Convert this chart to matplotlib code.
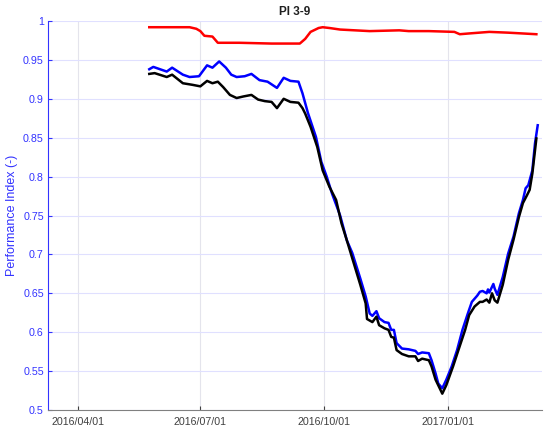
import matplotlib
matplotlib.use("Agg")
import matplotlib.pyplot as plt
import matplotlib.dates as mdates
import pandas as pd

plt.rcParams['font.family'] = ['Liberation Sans', 'DejaVu Sans']

red_dates = ['2016-05-24', '2016-06-23', '2016-06-28', '2016-07-01', '2016-07-04',
             '2016-07-10', '2016-07-14', '2016-07-30', '2016-08-23', '2016-09-13',
             '2016-09-17', '2016-09-21', '2016-09-27', '2016-09-30', '2016-10-05',
             '2016-10-13', '2016-11-04', '2016-11-26', '2016-12-03', '2016-12-18',
             '2017-01-06', '2017-01-10', '2017-01-17', '2017-02-01', '2017-02-15',
             '2017-03-08']
red_vals = [0.992, 0.992, 0.990, 0.987, 0.981, 0.980, 0.972, 0.972, 0.971, 0.971,
            0.977, 0.986, 0.991, 0.992, 0.991, 0.989, 0.987, 0.988, 0.987, 0.987,
            0.986, 0.983, 0.984, 0.986, 0.985, 0.983]

blue_dates = ['2016-05-24', '2016-05-27', '2016-06-06', '2016-06-10', '2016-06-18',
              '2016-06-23', '2016-06-30', '2016-07-03', '2016-07-06', '2016-07-10',
              '2016-07-15', '2016-07-20', '2016-07-24', '2016-07-28', '2016-08-03',
              '2016-08-08', '2016-08-14', '2016-08-20', '2016-08-27', '2016-09-01',
              '2016-09-06', '2016-09-12', '2016-09-15', '2016-09-19', '2016-09-25',
              '2016-09-29', '2016-10-03', '2016-10-07', '2016-10-13', '2016-10-18',
              '2016-10-22', '2016-10-28', '2016-11-01', '2016-11-04', '2016-11-06',
              '2016-11-09', '2016-11-11', '2016-11-15', '2016-11-18', '2016-11-20',
              '2016-11-22', '2016-11-24', '2016-11-28', '2016-12-03', '2016-12-08',
              '2016-12-10', '2016-12-13', '2016-12-18', '2016-12-20', '2016-12-23',
              '2016-12-25', '2016-12-28', '2016-12-31', '2017-01-04', '2017-01-08',
              '2017-01-12', '2017-01-16', '2017-01-19', '2017-01-23', '2017-01-25',
              '2017-01-27', '2017-01-30', '2017-01-31', '2017-02-01', '2017-02-04',
              '2017-02-05', '2017-02-07', '2017-02-11', '2017-02-15', '2017-02-19',
              '2017-02-23', '2017-02-26', '2017-02-28', '2017-03-02', '2017-03-05',
              '2017-03-07', '2017-03-09']
blue_vals = [0.938, 0.941, 0.935, 0.940, 0.931, 0.928, 0.929, 0.936, 0.943, 0.940,
             0.948, 0.940, 0.931, 0.928, 0.929, 0.932, 0.924, 0.922, 0.914, 0.927,
             0.923, 0.922, 0.907, 0.882, 0.851, 0.819, 0.800, 0.778, 0.750, 0.718,
             0.702, 0.669, 0.646, 0.624, 0.621, 0.627, 0.618, 0.613, 0.612, 0.603,
             0.603, 0.586, 0.579, 0.578, 0.576, 0.572, 0.574, 0.573, 0.564, 0.547,
             0.534, 0.528, 0.539, 0.556, 0.577, 0.603, 0.624, 0.639, 0.647, 0.652,
             0.653, 0.650, 0.655, 0.651, 0.662, 0.656, 0.648, 0.671, 0.701, 0.723,
             0.753, 0.770, 0.785, 0.789, 0.808, 0.843, 0.866]

black_dates = ['2016-05-24', '2016-05-28', '2016-06-06', '2016-06-10', '2016-06-18',
               '2016-06-25', '2016-07-01', '2016-07-06', '2016-07-10', '2016-07-14',
               '2016-07-18', '2016-07-23', '2016-07-28', '2016-08-02', '2016-08-08',
               '2016-08-13', '2016-08-18', '2016-08-23', '2016-08-27', '2016-09-01',
               '2016-09-06', '2016-09-12', '2016-09-15', '2016-09-17', '2016-09-21',
               '2016-09-26', '2016-09-30', '2016-10-05', '2016-10-10', '2016-10-14',
               '2016-10-18', '2016-10-28', '2016-11-01', '2016-11-02', '2016-11-06',
               '2016-11-09', '2016-11-11', '2016-11-15', '2016-11-18', '2016-11-20',
               '2016-11-22', '2016-11-24', '2016-11-28', '2016-12-03', '2016-12-08',
               '2016-12-10', '2016-12-13', '2016-12-18', '2016-12-20', '2016-12-23',
               '2016-12-28', '2016-12-31', '2017-01-05', '2017-01-09', '2017-01-14',
               '2017-01-17', '2017-01-21', '2017-01-25', '2017-01-27', '2017-01-30',
               '2017-02-01', '2017-02-03', '2017-02-05', '2017-02-07', '2017-02-11',
               '2017-02-15', '2017-02-19', '2017-02-23', '2017-02-26', '2017-03-01',
               '2017-03-03', '2017-03-05', '2017-03-08']
black_vals = [0.932, 0.933, 0.928, 0.931, 0.920, 0.918, 0.916, 0.923, 0.920, 0.922,
              0.915, 0.905, 0.901, 0.903, 0.905, 0.899, 0.897, 0.896, 0.888, 0.900,
              0.896, 0.895, 0.888, 0.881, 0.864, 0.838, 0.808, 0.787, 0.770, 0.740,
              0.718, 0.661, 0.637, 0.617, 0.613, 0.620, 0.609, 0.605, 0.603, 0.594,
              0.593, 0.577, 0.572, 0.569, 0.569, 0.563, 0.566, 0.564, 0.556, 0.539,
              0.521, 0.532, 0.556, 0.577, 0.603, 0.622, 0.633, 0.639, 0.639, 0.642,
              0.638, 0.650, 0.641, 0.638, 0.661, 0.693, 0.719, 0.748, 0.766, 0.776,
              0.783, 0.804, 0.849]

x_ticks = ['2016-04-01', '2016-07-01', '2016-10-01', '2017-01-01']
y_ticks = [0.5, 0.55, 0.6, 0.65, 0.7, 0.75, 0.8, 0.85, 0.9, 0.95, 1]
y_labels = ['0.5', '0.55', '0.6', '0.65', '0.7', '0.75', '0.8', '0.85', '0.9', '0.95', '1']

fig = plt.figure(figsize=(5.5, 4.32), dpi=100)
ax = fig.add_axes([0.0873, 0.0509, 0.8975, 0.9005])

ax.plot(pd.to_datetime(red_dates), red_vals, color='#ff0000', lw=1.8)
ax.plot(pd.to_datetime(blue_dates), blue_vals, color='#0000ff', lw=1.8)
ax.plot(pd.to_datetime(black_dates), black_vals, color='black', lw=1.8)

ax.set_xlim(pd.Timestamp('2016-03-09 16:00'), pd.Timestamp('2017-03-11 22:00'))
ax.set_ylim(0.5, 1.0)

ax.set_xticks(pd.to_datetime(x_ticks))
ax.xaxis.set_major_formatter(mdates.DateFormatter('%Y/%m/%d'))
ax.set_yticks(y_ticks)
ax.set_yticklabels(y_labels)

blue_axis = '#3333ff'
ax.tick_params(axis='x', direction='in', length=3, colors='#404040', labelsize=7.7, pad=5)
ax.tick_params(axis='y', direction='in', length=3, colors=blue_axis, labelsize=7.7, pad=3)

for spine in ['top', 'right']:
    ax.spines[spine].set_visible(False)
ax.spines['left'].set_color(blue_axis)
ax.spines['bottom'].set_color('#808080')

ax.xaxis.grid(True, color='#e4e4ec', lw=0.8)
ax.yaxis.grid(True, color='#e0e0ff', lw=0.8)
ax.set_axisbelow(True)

ax.set_ylabel('Performance Index (-)', color=blue_axis, fontsize=9, labelpad=4)
ax.set_title('PI 3-9', fontsize=8.5, fontweight='bold', pad=4, color='#202020')

fig.savefig('out.png', dpi=100)
